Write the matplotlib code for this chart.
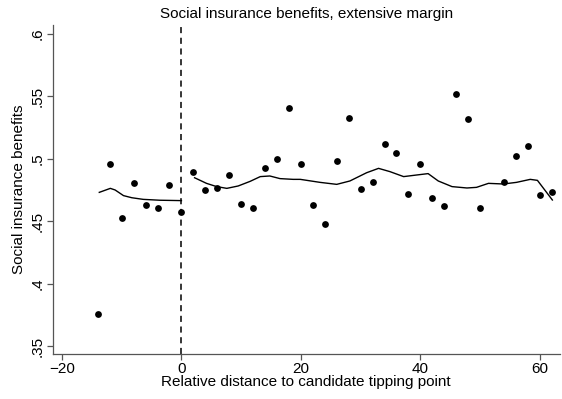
import matplotlib
matplotlib.use('Agg')
import matplotlib.pyplot as plt

plt.rcParams['font.family'] = ['Liberation Sans', 'DejaVu Sans']

# binned means
dist = [-14, -12, -10, -8, -6, -4, -2, 0, 2, 4, 6, 8, 10, 12, 14, 16, 18, 20,
        22, 24, 26, 28, 30, 32, 34, 36, 38, 40, 42, 44, 46, 48, 50, 54, 56, 58, 60, 62]
benefit = [0.376, 0.4957, 0.4526, 0.4808, 0.4635, 0.4608, 0.479, 0.4573,
           0.4893, 0.4752, 0.4768, 0.4872, 0.464, 0.4605, 0.4928, 0.5003, 0.5408, 0.4957,
           0.463, 0.448, 0.4986, 0.5328, 0.4757, 0.4816, 0.512, 0.505, 0.4722, 0.4957,
           0.4688, 0.4624, 0.552, 0.5317, 0.4608, 0.4813, 0.5021, 0.5106, 0.4714, 0.4738]

# smoothed fit, left and right of the candidate tipping point
fit_left_x = [-13.75, -11.9, -11.1, -9.7, -8.3, -6.4, -3.6, 0]
fit_left_y = [0.4733, 0.4765, 0.4752, 0.4707, 0.469, 0.4677, 0.467, 0.4667]
fit_right_x = [2.2, 4.2, 5.9, 7.6, 9.5, 11.5, 13.2, 14.8, 16.5, 18.7, 19.9, 23.2, 26,
               28.2, 31, 33, 34.9, 37.2, 39.4, 41.3, 43, 45.3, 47.8, 49.4, 51.4, 53.9,
               56.1, 58.4, 59.6, 62.1]
fit_right_y = [0.485, 0.4805, 0.4779, 0.4765, 0.4784, 0.4821, 0.4859, 0.4864, 0.4843,
               0.4837, 0.4837, 0.4813, 0.4797, 0.4824, 0.489, 0.4925, 0.4899, 0.4859,
               0.4872, 0.4883, 0.4824, 0.4779, 0.4768, 0.4773, 0.4805, 0.48, 0.4813,
               0.4837, 0.4829, 0.4672]

xticks = [-20, 0, 20, 40, 60]
yticks = [0.35, 0.4, 0.45, 0.5, 0.55, 0.6]
ylabels = ['.35', '.4', '.45', '.5', '.55', '.6']

fig = plt.figure(figsize=(5.62, 3.99), dpi=100)
ax = fig.add_axes([0.0943, 0.1128, 0.9013, 0.8246])

ax.scatter(dist, benefit, s=24, color='black', zorder=3, linewidths=0)
ax.plot(fit_left_x, fit_left_y, color='black', lw=1.0)
ax.plot(fit_right_x, fit_right_y, color='black', lw=1.0)
ax.axvline(0, color='black', lw=1.1, ls=(0, (4, 3)))

ax.set_xlim(-21.5, 63.3)
ax.set_ylim(0.344, 0.6072)
ax.set_xticks(xticks)
ax.set_yticks(yticks)
ax.set_yticklabels(ylabels, rotation=90, va='center')

for s in ['top', 'right']:
    ax.spines[s].set_visible(False)
for s in ['left', 'bottom']:
    ax.spines[s].set_color('#555555')
    ax.spines[s].set_linewidth(0.9)
ax.tick_params(direction='out', length=4, width=0.9, color='#555555', labelsize=11, pad=2)

ax.set_title('Social insurance benefits, extensive margin', fontsize=11, pad=5)
ax.set_xlabel('Relative distance to candidate tipping point', fontsize=11, labelpad=-1)
ax.set_ylabel('Social insurance benefits', fontsize=11, labelpad=3)

fig.savefig('out.png', dpi=100)
